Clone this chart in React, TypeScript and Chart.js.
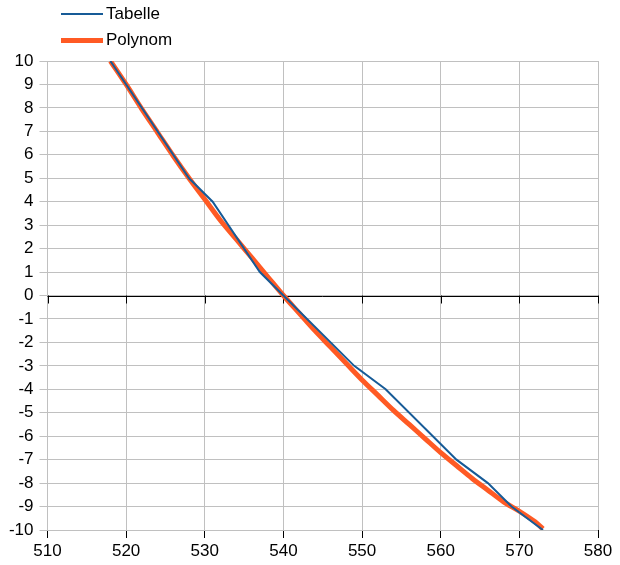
import React, { useEffect, useRef } from "react";
import { Chart, registerables } from "chart.js";

Chart.register(...registerables);

// Tabelle (table values)
const tabelleX = [518, 528, 531, 537, 540, 549, 553, 562, 566, 569, 573];
const tabelleY = [10, 5, 4, 1, 0, -3, -4, -7, -8, -9, -10];

// Polynom (fitted curve)
const polyX = [518, 520, 522, 524, 526, 528, 530, 532, 534, 536, 538, 540, 542, 544, 546, 548, 550, 552, 554, 556, 558, 560, 562, 564, 566, 568, 570, 572, 573];
const polyY = [10, 9.0, 7.95, 6.95, 5.95, 5.0, 4.1, 3.2, 2.4, 1.6, 0.8, 0.0, -0.75, -1.5, -2.2, -2.9, -3.6, -4.25, -4.9, -5.5, -6.1, -6.7, -7.25, -7.8, -8.3, -8.8, -9.2, -9.65, -9.95];

const xTicks = [510, 520, 530, 540, 550, 560, 570, 580];
const yMin = -10;
const yMax = 10;

const seriesNames = ["Tabelle", "Polynom"];
const blue = "#175b97";
const orange = "#ff5a24";
const FONT = "'Liberation Sans', Arial, sans-serif";

const zeroTicks = {
  id: "zeroTicks",
  beforeDatasetsDraw(chart: any) {
    const x = chart.scales.x;
    const y = chart.scales.y;
    const ctx = chart.ctx;
    const py = y.getPixelForValue(0);
    ctx.save();
    ctx.strokeStyle = "#000000";
    ctx.lineWidth = 1;
    ctx.beginPath();
    ctx.moveTo(x.left, Math.round(py) + 0.5);
    ctx.lineTo(x.right, Math.round(py) + 0.5);
    for (const v of xTicks) {
      const px = Math.round(x.getPixelForValue(v)) + 0.5;
      ctx.moveTo(px, py);
      ctx.lineTo(px, py + 8);
    }
    ctx.stroke();
    ctx.restore();
  },
};

export default function App() {
  const ref = useRef<HTMLCanvasElement>(null);
  useEffect(() => {
    document.body.style.margin = "0";
    const chart = new Chart(ref.current!, {
      type: "scatter",
      data: {
        datasets: [
          {
            label: seriesNames[1],
            data: polyX.map((x, i) => ({ x, y: polyY[i] })),
            showLine: true,
            borderColor: orange,
            backgroundColor: orange,
            borderWidth: 5,
            pointRadius: 0,
            tension: 0.3,
            order: 2,
          },
          {
            label: seriesNames[0],
            data: tabelleX.map((x, i) => ({ x, y: tabelleY[i] })),
            showLine: true,
            borderColor: blue,
            backgroundColor: blue,
            borderWidth: 2,
            pointRadius: 0,
            tension: 0,
            order: 1,
          },
        ],
      },
      plugins: [zeroTicks],
      options: {
        animation: false,
        responsive: false,
        maintainAspectRatio: false,
        layout: { padding: { left: 8, right: 22, top: 61, bottom: 5 } },
        plugins: {
          legend: { display: false },
          tooltip: { enabled: false },
        },
        scales: {
          x: {
            type: "linear",
            min: 510,
            max: 580,
            afterBuildTicks: (s: any) => {
              s.ticks = xTicks.map((v) => ({ value: v }));
            },
            afterFit: (s: any) => {
              s.height = 30;
            },
            grid: {
              color: "#c0c0c0",
              tickColor: "#000000",
              tickLength: 8,
              lineWidth: 1,
            },
            border: { display: false },
            ticks: {
              color: "#000000",
              font: { family: FONT, size: 17 },
              padding: 3,
              maxRotation: 0,
            },
          },
          y: {
            type: "linear",
            min: yMin,
            max: yMax,
            afterFit: (s: any) => {
              s.width = 39.5;
            },
            grid: {
              color: "#c0c0c0",
              tickColor: "#c0c0c0",
              tickLength: 8,
              lineWidth: 1,
            },
            border: { display: false },
            ticks: {
              stepSize: 1,
              color: "#000000",
              font: { family: FONT, size: 17 },
              padding: 6,
            },
          },
        },
      },
    });
    return () => chart.destroy();
  }, []);

  const legendRow = (name: string, color: string, h: number, top: number) => (
    <div
      style={{
        position: "absolute",
        left: 61,
        top,
        height: 20,
        display: "flex",
        alignItems: "center",
        fontFamily: FONT,
        fontSize: 17,
        color: "#000",
      }}
    >
      <span style={{ display: "inline-block", width: 42, height: h, background: color }} />
      <span style={{ marginLeft: 3 }}>{name}</span>
    </div>
  );

  return (
    <div style={{ position: "relative", width: 620, height: 565 }}>
      <canvas ref={ref} width={620} height={565} style={{ position: "absolute", left: 0, top: 0 }} />
      {legendRow(seriesNames[0], blue, 2, 4)}
      {legendRow(seriesNames[1], orange, 5, 30)}
    </div>
  );
}
